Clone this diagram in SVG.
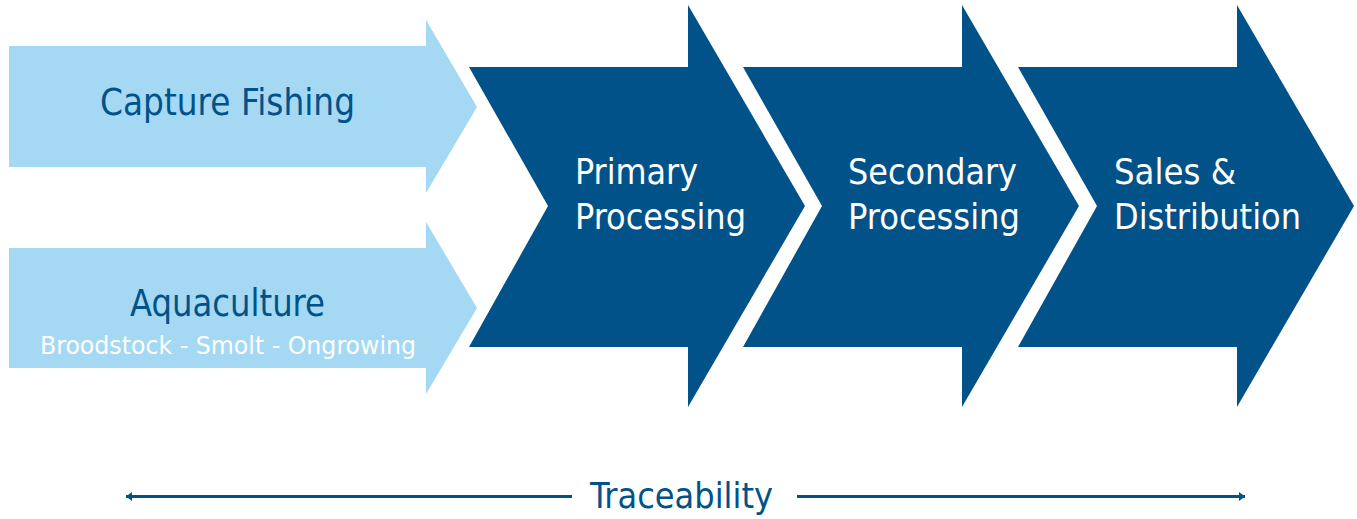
<svg xmlns="http://www.w3.org/2000/svg" width="1357" height="519" viewBox="0 0 1357 519">
  <style>
    .light { fill: #A4D8F3; }
    .dark { fill: #02528A; }
    .t { font-family: "DejaVu Sans Condensed", "DejaVu Sans", sans-serif; }
    .tdark { fill: #02528A; }
    .twhite { fill: #FFFFFF; }
    .conn { stroke: #02528A; stroke-width: 3; fill: none; }
  </style>
  <defs>
    <marker id="ah" markerUnits="userSpaceOnUse" markerWidth="7" markerHeight="10" refX="6" refY="4.5" orient="auto-start-reverse">
      <path d="M0,0 L6,4.5 L0,9 Z" fill="#02528A"/>
    </marker>
  </defs>
  <rect width="1357" height="519" fill="#FFFFFF"/>

  <g id="capture-fishing">
    <path class="light" d="M9,46 L426,46 L426,20 L477,107 L426,193 L426,167 L9,167 Z"/>
    <text class="t tdark" x="100" y="115" font-size="38" textLength="255" lengthAdjust="spacingAndGlyphs">Capture Fishing</text>
  </g>

  <g id="aquaculture">
    <path class="light" d="M9,248 L426,248 L426,222 L477,308 L426,394 L426,368 L9,368 Z"/>
    <text class="t tdark" x="130" y="316" font-size="37" textLength="195" lengthAdjust="spacingAndGlyphs">Aquaculture</text>
    <text class="t twhite" x="40" y="354" font-size="25" textLength="376" lengthAdjust="spacingAndGlyphs">Broodstock - Smolt - Ongrowing</text>
  </g>

  <g id="primary-processing">
    <path class="dark" d="M469,67 L688,67 L688,5 L805,206 L688,407 L688,347 L469,347 L548,206 Z"/>
    <text class="t twhite" x="575" y="184" font-size="36" textLength="123" lengthAdjust="spacingAndGlyphs">Primary</text>
    <text class="t twhite" x="575" y="229" font-size="36" textLength="171" lengthAdjust="spacingAndGlyphs">Processing</text>
  </g>

  <g id="secondary-processing">
    <path class="dark" d="M743,67 L962,67 L962,5 L1079,206 L962,407 L962,347 L743,347 L822,206 Z"/>
    <text class="t twhite" x="848" y="184" font-size="36" textLength="169" lengthAdjust="spacingAndGlyphs">Secondary</text>
    <text class="t twhite" x="848" y="229" font-size="36" textLength="172" lengthAdjust="spacingAndGlyphs">Processing</text>
  </g>

  <g id="sales-distribution">
    <path class="dark" d="M1018,67 L1237,67 L1237,5 L1354,206 L1237,407 L1237,347 L1018,347 L1097,206 Z"/>
    <text class="t twhite" x="1114" y="184" font-size="36" textLength="122" lengthAdjust="spacingAndGlyphs">Sales &amp;</text>
    <text class="t twhite" x="1114" y="229" font-size="36" textLength="187" lengthAdjust="spacingAndGlyphs">Distribution</text>
  </g>

  <g id="connectors">
    <line class="conn" x1="572" y1="496.5" x2="126" y2="496.5" marker-end="url(#ah)"/>
    <line class="conn" x1="797" y1="496.5" x2="1245" y2="496.5" marker-end="url(#ah)"/>
  </g>

  <g id="traceability">
    <text class="t tdark" x="590" y="508" font-size="35" textLength="183" lengthAdjust="spacingAndGlyphs">Traceability</text>
  </g>
</svg>
